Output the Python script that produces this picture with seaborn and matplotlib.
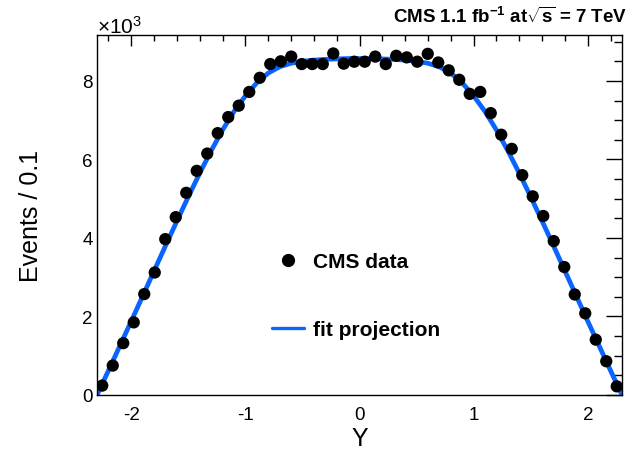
import numpy as np
import pandas as pd
import matplotlib
matplotlib.use("Agg")
import matplotlib.pyplot as plt
from matplotlib.lines import Line2D
from matplotlib.ticker import MultipleLocator
import seaborn as sns

# Binned rapidity distribution: 50 bins over [-2.3, 2.3]
y_low, y_high, n_bins = -2.3, 2.3, 50
events_k = [0.24, 0.75, 1.32, 1.85, 2.57, 3.12, 3.97, 4.53, 5.15, 5.71,
            6.15, 6.67, 7.08, 7.37, 7.72, 8.08, 8.43, 8.50, 8.62, 8.43,
            8.43, 8.43, 8.70, 8.44, 8.49, 8.49, 8.62, 8.43, 8.64, 8.60,
            8.49, 8.69, 8.47, 8.27, 8.03, 7.67, 7.72, 7.18, 6.63, 6.27,
            5.60, 5.06, 4.56, 3.92, 3.26, 2.56, 2.08, 1.41, 0.86, 0.22]

# Fit projection sampled along Y
fit_x = [-2.3, -2.2, -2.1, -2.0, -1.9, -1.8, -1.7, -1.6, -1.5, -1.4, -1.3, -1.2,
         -1.1, -1.0, -0.9, -0.8, -0.7, -0.6, -0.5, -0.4, -0.3, -0.2, -0.1, 0.0,
         0.1, 0.2, 0.3, 0.4, 0.5, 0.6, 0.7, 0.8, 0.9, 1.0, 1.1, 1.2, 1.3, 1.4,
         1.5, 1.6, 1.7, 1.8, 1.9, 2.0, 2.1, 2.2, 2.3]
fit_y = [0.00, 0.62, 1.25, 1.88, 2.52, 3.16, 3.80, 4.43, 5.05, 5.65, 6.22, 6.75,
         7.22, 7.62, 7.95, 8.20, 8.36, 8.45, 8.50, 8.53, 8.55, 8.56, 8.57, 8.57,
         8.57, 8.56, 8.55, 8.53, 8.50, 8.45, 8.36, 8.20, 7.95, 7.62, 7.22, 6.75,
         6.22, 5.65, 5.05, 4.43, 3.80, 3.16, 2.52, 1.88, 1.25, 0.62, 0.00]

title_text = r"CMS 1.1 fb$^{\mathbf{-1}}$ at$\sqrt{\mathbf{s}}$ = 7 TeV"
x_title = "Y"
y_title = "Events / 0.1"
exp_label = r"×10$^{3}$"
legend_labels = ["CMS data", "fit projection"]

edges = np.linspace(y_low, y_high, n_bins + 1)
centers = 0.5 * (edges[:-1] + edges[1:])
data = pd.DataFrame({"Y": centers, "events": events_k})
fit = pd.DataFrame({"Y": fit_x, "events": fit_y})

sns.set_theme(style="white")
plt.rcParams["font.family"] = ["Liberation Sans", "DejaVu Sans"]
plt.rcParams["text.color"] = "black"
plt.rcParams["axes.labelcolor"] = "black"
plt.rcParams["xtick.color"] = "black"
plt.rcParams["ytick.color"] = "black"
plt.rcParams["mathtext.fontset"] = "custom"
plt.rcParams["mathtext.rm"] = "Liberation Sans"
plt.rcParams["mathtext.bf"] = "Liberation Sans:bold"
plt.rcParams["mathtext.it"] = "Liberation Sans"
plt.rcParams["mathtext.default"] = "regular"

blue = "#0a64ff"

fig = plt.figure(figsize=(6.35, 4.56), dpi=100)
ax = fig.add_axes([97 / 635, 60 / 456, 525 / 635, 360 / 456])

sns.lineplot(data=fit, x="Y", y="events", ax=ax, color=blue, linewidth=3.4,
             zorder=2, legend=False)
sns.scatterplot(data=data, x="Y", y="events", ax=ax, color="black", s=78,
                edgecolor="none", zorder=3, legend=False)

ax.set_xlim(y_low, y_high)
ax.set_ylim(0, 9.17)

ax.xaxis.set_major_locator(MultipleLocator(1))
ax.xaxis.set_minor_locator(MultipleLocator(0.2))
ax.yaxis.set_major_locator(MultipleLocator(2))
ax.yaxis.set_minor_locator(MultipleLocator(0.5))
ax.tick_params(axis="both", which="both", direction="in", top=True, right=True,
               color="black", width=1.0)
ax.tick_params(axis="x", which="major", length=8, pad=8, labelsize=13.5)
ax.tick_params(axis="x", which="minor", length=4)
ax.tick_params(axis="y", which="major", length=11.3, pad=3, labelsize=13.5)
ax.tick_params(axis="y", which="minor", length=5.8)
ax.set_xticks([-2, -1, 0, 1, 2])
ax.set_xticklabels(["-2", "-1", "0", "1", "2"])
for sp in ax.spines.values():
    sp.set_color("black")
    sp.set_linewidth(1.0)

ax.set_xlabel(x_title, fontsize=18)
ax.set_ylabel(y_title, fontsize=18)
ax.xaxis.set_label_coords(0.5, -0.085)
ax.yaxis.set_label_coords(-0.103, 0.5)

ax.text(0.0, 1.006, exp_label, transform=ax.transAxes, ha="left",
        va="baseline", fontsize=15)
fig.text(627 / 635, 1 - 17 / 456, title_text, ha="right", va="center",
         fontsize=13.5, fontweight="bold")

handles = [Line2D([], [], linestyle="none", marker="o", markersize=8.5,
                  color="black"),
           Line2D([], [], color=blue, linewidth=2.4)]
ax.legend(handles, legend_labels, loc="center left",
          bbox_to_anchor=(0.333, 0.276), frameon=False,
          prop={"size": 15, "weight": "bold"}, labelspacing=2.35,
          handlelength=1.55, handletextpad=0.45, borderpad=0,
          borderaxespad=0)

fig.savefig("out.png", dpi=100, facecolor="white")
